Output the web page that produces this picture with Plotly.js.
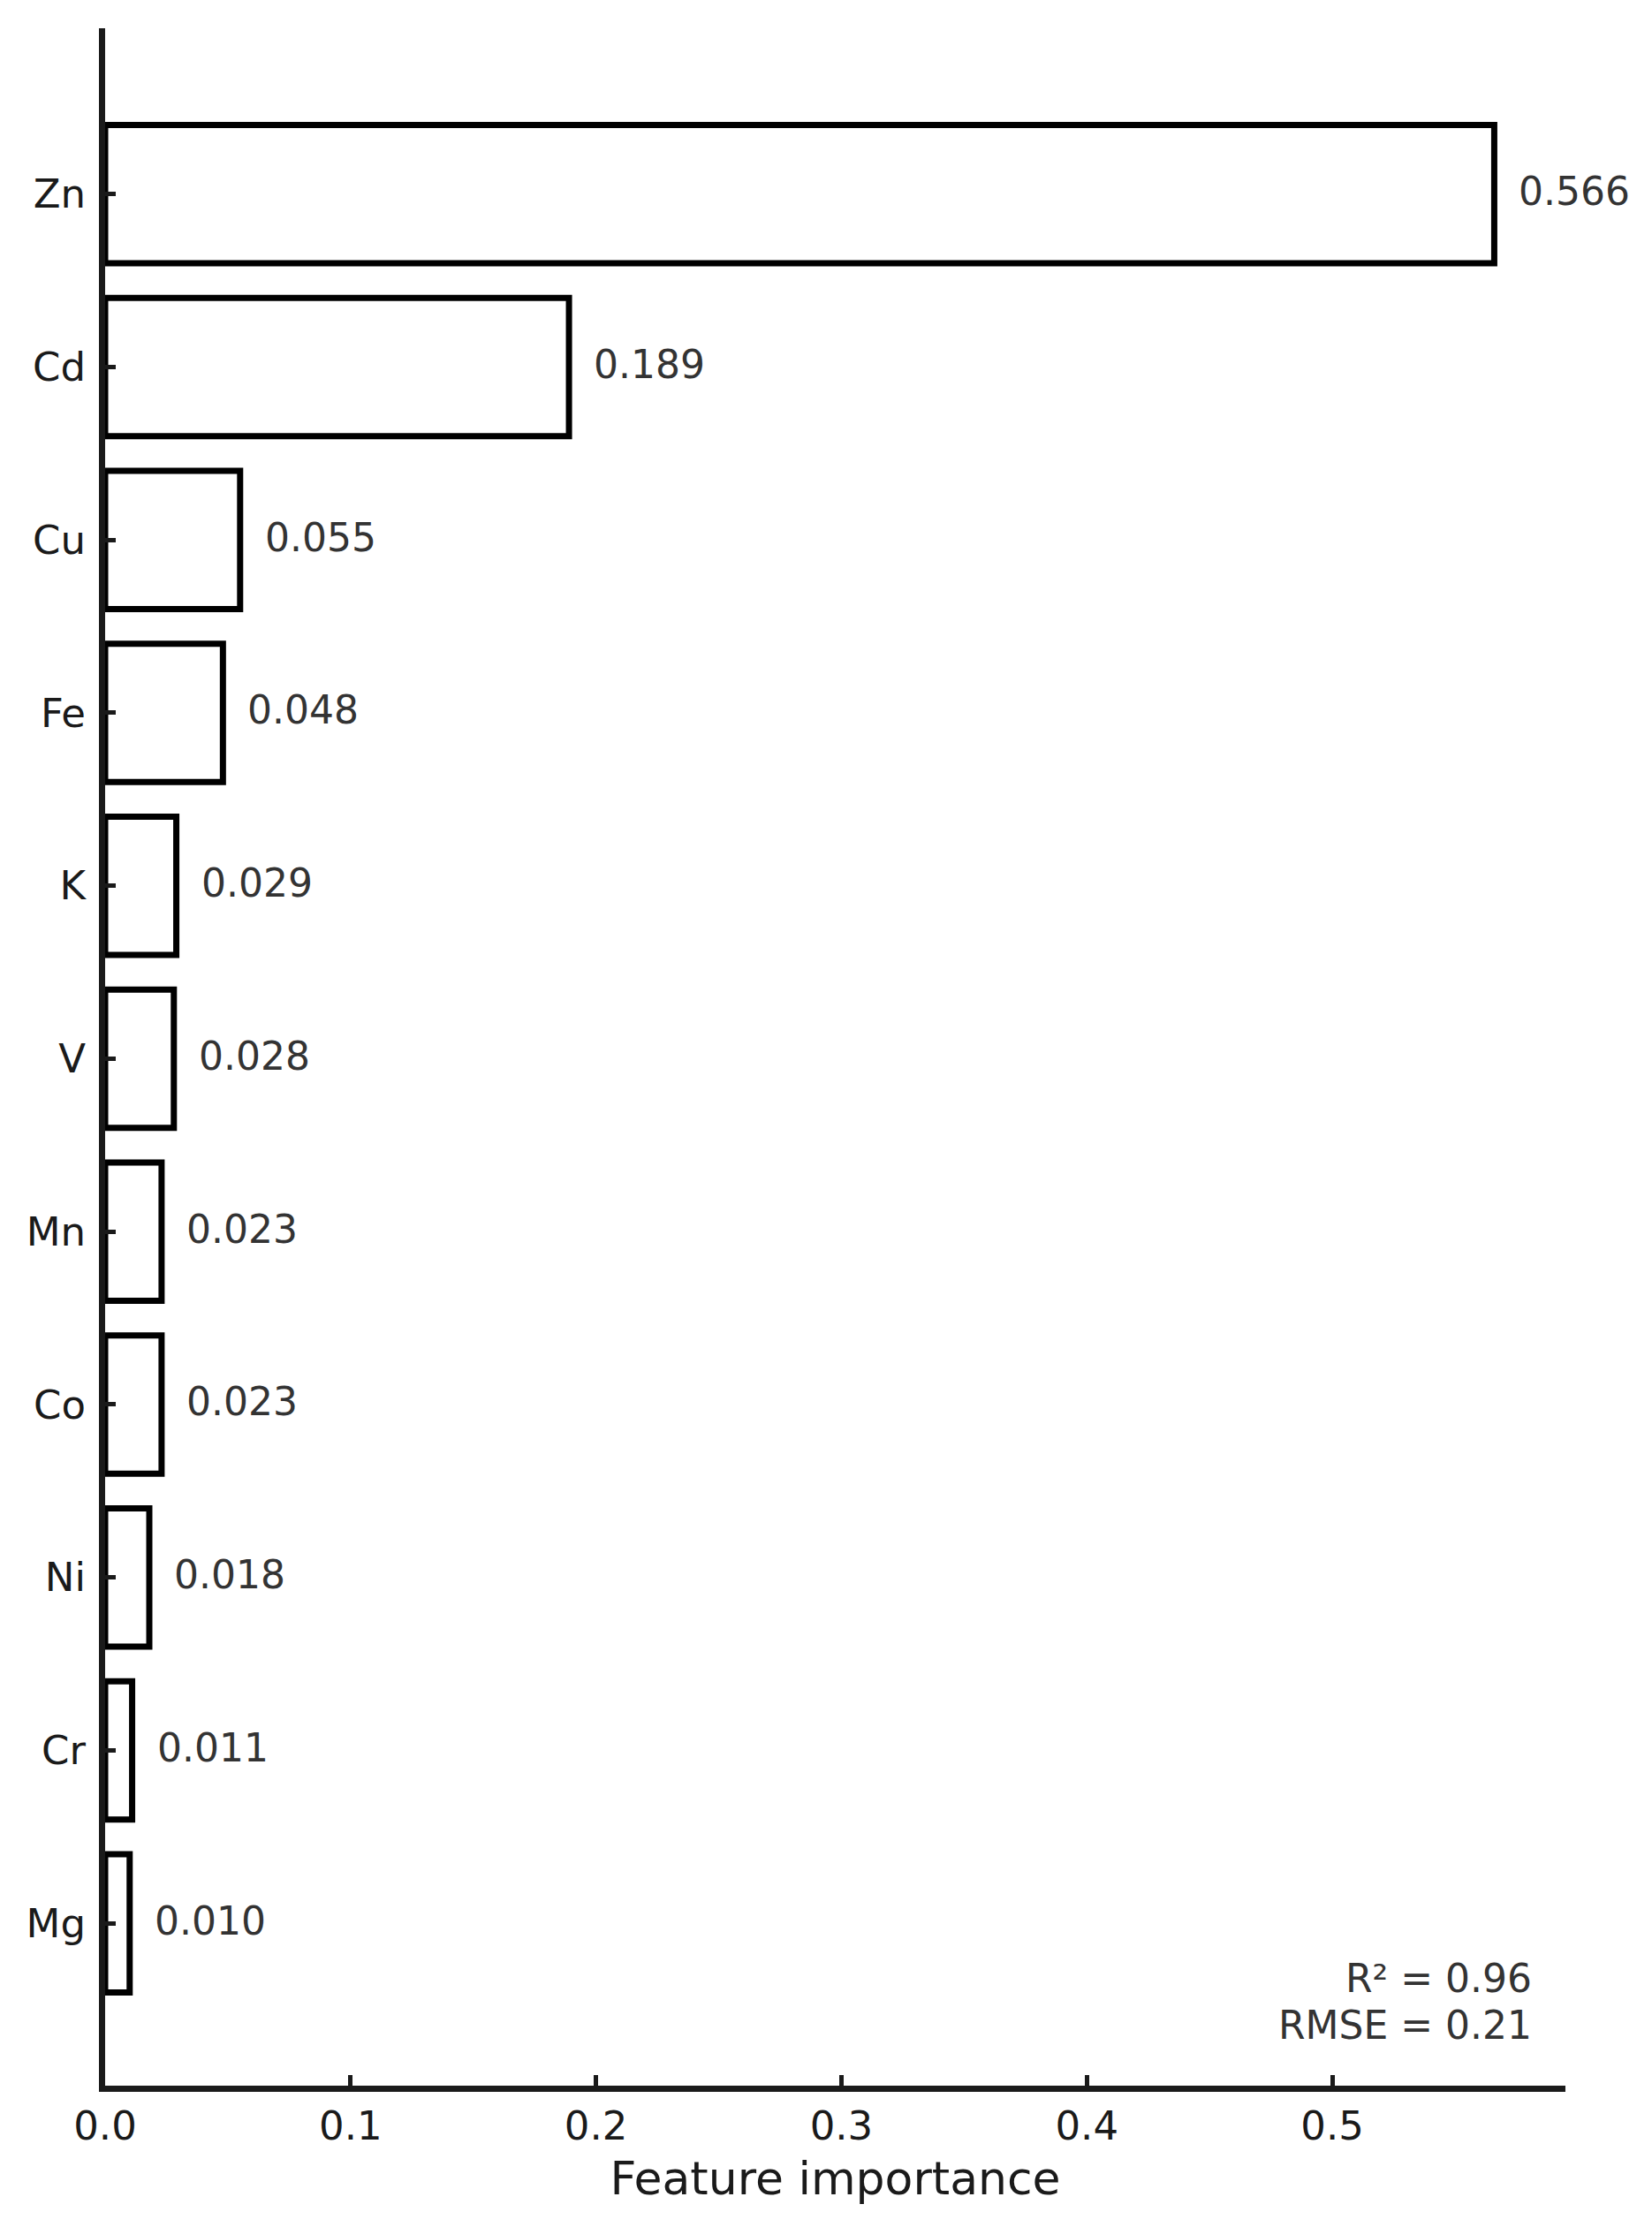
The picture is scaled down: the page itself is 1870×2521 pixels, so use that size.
<!DOCTYPE html>
<html>
<head>
<meta charset="utf-8">
<script src="https://cdn.plot.ly/plotly-3.0.1.min.js"></script>
<style>
  html, body { margin: 0; padding: 0; background: #fff; }
  #chart { width: 1870px; height: 2521px; }
</style>
</head>
<body>
<div id="chart"></div>
<script>
// feature importances, top to bottom as drawn
const elements = ["Zn", "Cd", "Cu", "Fe", "K", "V", "Mn", "Co", "Ni", "Cr", "Mg"];
const importance = [0.566, 0.189, 0.055, 0.048, 0.029, 0.028, 0.023, 0.023, 0.018, 0.011, 0.010];
const valueLabels = ["0.566", "0.189", "0.055", "0.048", "0.029", "0.028", "0.023", "0.023", "0.018", "0.011", "0.010"];
const statLines = ["R² = 0.96", "RMSE = 0.21"];

const font = "DejaVu Sans, Liberation Sans, sans-serif";
const ink = "#1a1a1a";

let bars = {
    type: "bar",
    orientation: "h",
    x: importance,
    y: elements,
    width: 0.8,
    marker: {
        color: "#ffffff",
        line: { color: "#000000", width: 7 }
    },
    hoverinfo: "skip"
};

// value text to the right of every bar
let annotations = elements.map((el, i) => ({
    x: importance[i],
    y: el,
    xref: "x",
    yref: "y",
    text: valueLabels[i],
    showarrow: false,
    xanchor: "left",
    yanchor: "middle",
    xshift: 26,
    yshift: 3,
    font: { family: font, size: 44, color: "#333333" }
}));

// model scores, bottom right corner
let statY = [0.052, 0.0292];
statLines.forEach((line, i) => {
    annotations.push({
        x: 0.978,
        y: statY[i],
        xref: "paper",
        yref: "paper",
        text: line,
        showarrow: false,
        xanchor: "right",
        yanchor: "middle",
        font: { family: font, size: 44, color: "#333333" }
    });
});

let layout = {
    width: 1870,
    height: 2521,
    margin: { l: 119, r: 98, t: 32, b: 160 },
    paper_bgcolor: "#ffffff",
    plot_bgcolor: "#ffffff",
    showlegend: false,
    font: { family: font, color: ink },
    xaxis: {
        range: [0, 0.595],
        tick0: 0,
        dtick: 0.1,
        tickformat: ".1f",
        ticks: "inside",
        ticklen: 12,
        tickwidth: 5,
        tickcolor: ink,
        showline: true,
        linecolor: ink,
        linewidth: 7,
        showgrid: false,
        zeroline: false,
        tickfont: { family: font, size: 45, color: ink },
        title: {
            text: "Feature importance",
            font: { family: font, size: 52, color: ink },
            standoff: 18
        }
    },
    yaxis: {
        type: "category",
        range: [10.939, -0.959],
        ticks: "inside",
        ticklen: 12,
        tickwidth: 5,
        tickcolor: ink,
        showline: true,
        linecolor: ink,
        linewidth: 7,
        showgrid: false,
        zeroline: false,
        ticklabelstandoff: 6,
        tickfont: { family: font, size: 45, color: ink }
    },
    annotations: annotations
};

Plotly.newPlot("chart", [bars], layout, { displayModeBar: false, staticPlot: true });
</script>
</body>
</html>
